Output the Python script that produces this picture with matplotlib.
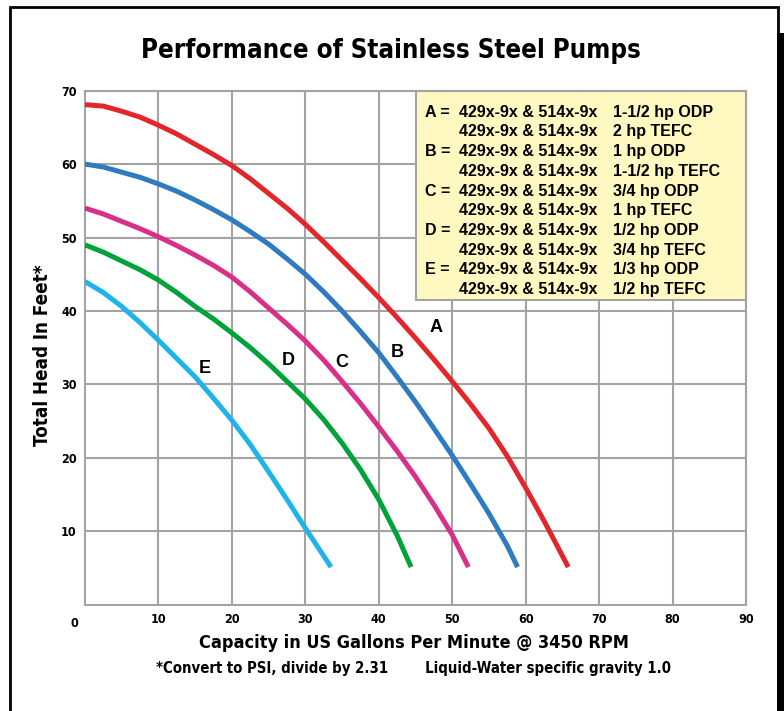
import matplotlib
matplotlib.use("Agg")
import matplotlib.pyplot as plt
from matplotlib import font_manager
from matplotlib.font_manager import FontProperties
from matplotlib.patches import Rectangle

# look for a condensed / narrow bold face for the headings
narrow_file = None
for f in font_manager.fontManager.ttflist:
    if ("Narrow" in f.name or "Condensed" in f.name or f.stretch in ("condensed", "semi-condensed")) \
            and f.weight in ("bold", 700) and f.style == "normal":
        narrow_file = f.fname
        break


def head_font(size):
    if narrow_file:
        return FontProperties(fname=narrow_file, size=size)
    return FontProperties(family="Liberation Sans", weight="bold", size=size)


plain = "Liberation Sans"

# pump curves: capacity (gpm) and head (ft)
a_gpm = [0, 2.5, 5, 7.5, 10, 12.5, 15, 17.5, 20, 22.5, 25, 27.5, 30, 32.5, 35, 37.5, 40,
         42.5, 45, 47.5, 50, 52.5, 55, 57.5, 60, 62.5, 65.8]
a_head = [68.1, 67.9, 67.2, 66.4, 65.3, 64.1, 62.7, 61.3, 59.8, 58.0, 56.0, 54.0, 51.8, 49.4,
          46.9, 44.4, 41.8, 39.1, 36.3, 33.4, 30.4, 27.3, 24.0, 20.2, 15.9, 11.4, 5.1]

b_gpm = [0, 2.5, 5, 7.5, 10, 12.5, 15, 17.5, 20, 22.5, 25, 27.5, 30, 32.5, 35, 37.5, 40,
         42.5, 45, 47.5, 50, 52.5, 55, 57.5, 58.9]
b_head = [60, 59.6, 58.9, 58.2, 57.3, 56.3, 55.1, 53.8, 52.4, 50.8, 49.1, 47.1, 45.0, 42.6,
          40.0, 37.2, 34.3, 31.0, 27.6, 24.0, 20.3, 16.4, 12.4, 8.0, 5.1]

c_gpm = [0, 2.5, 5, 7.5, 10, 12.5, 15, 17.5, 20, 22.5, 25, 27.5, 30, 32.5, 35, 37.5, 40,
         42.5, 45, 47.5, 50, 52.2]
c_head = [54, 53.2, 52.2, 51.2, 50.1, 48.9, 47.6, 46.2, 44.6, 42.6, 40.4, 38.2, 35.9, 33.3,
          30.4, 27.4, 24.2, 20.9, 17.4, 13.6, 9.5, 5.1]

d_gpm = [0, 2.5, 5, 7.5, 10, 12.5, 15, 17.5, 20, 22.5, 25, 27.5, 30, 32.5, 35, 37.5, 40,
         42.5, 44.4]
d_head = [49, 48.0, 46.8, 45.6, 44.2, 42.5, 40.6, 38.9, 37.0, 35.0, 32.8, 30.4, 28.0, 25.2,
          22.0, 18.4, 14.3, 9.4, 5.1]

e_gpm = [0, 2.5, 5, 7.5, 10, 12.5, 15, 17.5, 20, 22.5, 25, 27.5, 30, 33.5]
e_head = [44, 42.5, 40.6, 38.4, 36.0, 33.5, 31.0, 28.1, 25.1, 21.8, 18.1, 14.3, 10.4, 5.1]

curve_names = ["A", "B", "C", "D", "E"]
curve_colors = ["#e2262b", "#2e7bbf", "#d8308a", "#00a23a", "#1eb4ea"]
label_pos = [(47.8, 37.8), (42.5, 34.4), (35, 33), (27.7, 33.3), (16.3, 32.2)]

legend_lines = [
    ("A =", "429x-9x & 514x-9x", "1-1/2 hp ODP"),
    ("", "429x-9x & 514x-9x", "2 hp TEFC"),
    ("B =", "429x-9x & 514x-9x", "1 hp ODP"),
    ("", "429x-9x & 514x-9x", "1-1/2 hp TEFC"),
    ("C =", "429x-9x & 514x-9x", "3/4 hp ODP"),
    ("", "429x-9x & 514x-9x", "1 hp TEFC"),
    ("D =", "429x-9x & 514x-9x", "1/2 hp ODP"),
    ("", "429x-9x & 514x-9x", "3/4 hp TEFC"),
    ("E =", "429x-9x & 514x-9x", "1/3 hp ODP"),
    ("", "429x-9x & 514x-9x", "1/2 hp TEFC"),
]

x_ticks = [10, 20, 30, 40, 50, 60, 70, 80, 90]
y_ticks = [10, 20, 30, 40, 50, 60, 70]

fig = plt.figure(figsize=(7.84, 7.11), dpi=100)
ax = fig.add_axes([85 / 784, 1 - 604.5 / 711, 661 / 784, 513.8 / 711])

curves = [(a_gpm, a_head), (b_gpm, b_head), (c_gpm, c_head), (d_gpm, d_head), (e_gpm, e_head)]
for (gx, gy), col in zip(curves, curve_colors):
    ax.plot(gx, gy, color=col, linewidth=3.6, solid_capstyle="butt", solid_joinstyle="round", zorder=3)

for name, (lx, ly) in zip(curve_names, label_pos):
    ax.text(lx, ly, name, fontsize=13, fontweight="bold", family=plain, ha="center", va="center", zorder=4)

ax.set_xlim(0, 90)
ax.set_ylim(0, 70)
ax.set_xticks(x_ticks)
ax.set_yticks(y_ticks)
ax.grid(True, color="#a3a3a3", linewidth=1.5)
ax.set_axisbelow(True)
for s in ax.spines.values():
    s.set_color("#a3a3a3")
    s.set_linewidth(1.5)
ax.tick_params(length=0, pad=6)
for lab in ax.get_xticklabels() + ax.get_yticklabels():
    lab.set_fontproperties(head_font(9))
ax.text(-1.5, -1.7, "0", fontproperties=head_font(9), ha="center", va="top")

# legend panel in the upper right
ax.add_patch(Rectangle((45, 41.5), 45, 28.5, facecolor="#fff8c0", edgecolor="#a3a3a3",
                       linewidth=1.5, zorder=5, clip_on=False))
for i, (pre, model, motor) in enumerate(legend_lines):
    yy = 67.06 - i * 2.684
    kw = dict(fontsize=11.5, fontweight="bold", family=plain, va="center", zorder=6)
    if pre:
        ax.text(46.3, yy, pre, ha="left", **kw)
    ax.text(50.86, yy, model, ha="left", **kw)
    ax.text(71.9, yy, motor, ha="left", **kw)

fig.text(391 / 784, 1 - 51 / 711, "Performance of Stainless Steel Pumps",
         fontproperties=head_font(18.5), ha="center", va="center")
fig.text(414 / 784, 1 - 643 / 711, "Capacity in US Gallons Per Minute @ 3450 RPM",
         fontproperties=head_font(13), ha="center", va="center")
fig.text(414 / 784, 1 - 668 / 711,
         "*Convert to PSI, divide by 2.31        Liquid-Water specific gravity 1.0",
         fontproperties=head_font(10.7), ha="center", va="center")
fig.text(43 / 784, 1 - 355 / 711, "Total Head In Feet*", fontproperties=head_font(13.5),
         rotation=90, ha="center", va="center")

# outer frame with the dark shadow on the right
fig.patches.append(Rectangle((10 / 784, -0.05), 768 / 784, 1.05 - 7 / 711, transform=fig.transFigure,
                             fill=False, edgecolor="black", linewidth=2))
fig.patches.append(Rectangle((777 / 784, 0), 7 / 784, 1 - 33 / 711, transform=fig.transFigure,
                             facecolor="black", edgecolor="none"))

fig.savefig("out.png", dpi=100)
